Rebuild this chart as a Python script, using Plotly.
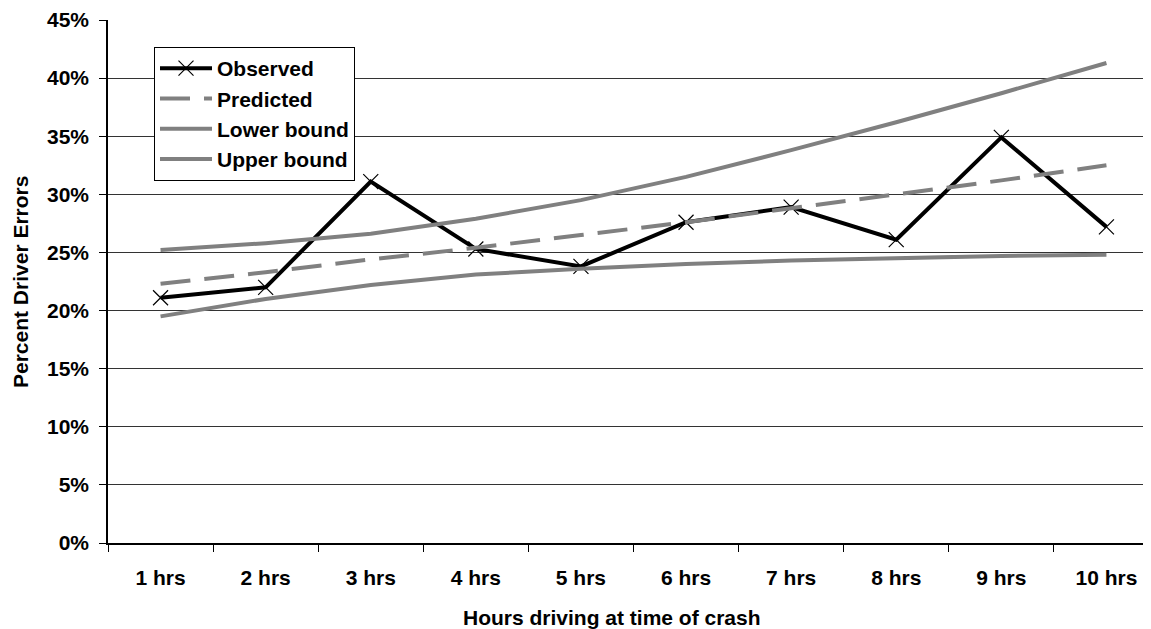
import plotly.graph_objects as go

categories = ["1 hrs", "2 hrs", "3 hrs", "4 hrs", "5 hrs", "6 hrs", "7 hrs", "8 hrs", "9 hrs", "10 hrs"]
observed = [0.211, 0.220, 0.311, 0.253, 0.238, 0.276, 0.289, 0.261, 0.349, 0.272]
predicted = [0.223, 0.233, 0.244, 0.254, 0.265, 0.276, 0.288, 0.300, 0.312, 0.325]
lower_bound = [0.195, 0.210, 0.222, 0.231, 0.236, 0.240, 0.243, 0.245, 0.247, 0.248]
upper_bound = [0.252, 0.258, 0.266, 0.279, 0.295, 0.315, 0.338, 0.362, 0.387, 0.413]
y_ticks = [0, 0.05, 0.10, 0.15, 0.20, 0.25, 0.30, 0.35, 0.40, 0.45]

FONT = "Liberation Sans, Arial, sans-serif"
GRAY = "#808080"
FS = 21

# page body has an 8px margin; figure coords = window coords - 8
W, H = 1143, 621
L, T, B = 100, 12, 86
PW, PH = W - L, H - T - B

fig = go.Figure()
fig.add_trace(go.Scatter(
    x=categories, y=observed, name="Observed", mode="lines+markers",
    line=dict(color="black", width=4),
    marker=dict(symbol="x-thin", size=15, line=dict(color="black", width=1.2), color="black"),
    legendgroup="a"))
fig.add_trace(go.Scatter(
    x=categories, y=predicted, name="Predicted", mode="lines",
    line=dict(color=GRAY, width=4, dash="30px,14px"), legendgroup="b"))
fig.add_trace(go.Scatter(
    x=categories, y=lower_bound, name="Lower bound", mode="lines",
    line=dict(color=GRAY, width=4), legendgroup="c"))
fig.add_trace(go.Scatter(
    x=categories, y=upper_bound, name="Upper bound", mode="lines",
    line=dict(color=GRAY, width=4), legendgroup="d"))

bold = dict(family=FONT, size=FS, color="black", weight="bold")

fig.update_layout(
    width=W, height=H,
    margin=dict(l=L, r=0, t=T, b=B),
    paper_bgcolor="white", plot_bgcolor="white",
    font=bold,
    showlegend=True,
    legend=dict(
        x=(146 - L) / PW, y=(535 - 39) / PH, xanchor="left", yanchor="top",
        bgcolor="white", bordercolor="black", borderwidth=1,
        font=bold,
        itemwidth=52, tracegroupgap=3, traceorder="normal",
    ),
    xaxis=dict(
        type="category", range=[-0.5, 9.424],
        showgrid=False, showline=True, linecolor="black", linewidth=1.5,
        ticks="outside", ticklen=7, tickcolor="black", tickwidth=1,
        tickson="boundaries", tickfont=bold,
        ticklabelstandoff=15, zeroline=False,
    ),
    yaxis=dict(
        range=[0, 0.45], tickvals=y_ticks, tickformat=".0%",
        showgrid=True, gridcolor="#333333", gridwidth=1,
        showline=True, linecolor="black", linewidth=1.5,
        ticks="outside", ticklen=7, tickcolor="black", tickwidth=1,
        tickfont=bold,
        ticklabelstandoff=6, zeroline=False,
    ),
    annotations=[
        dict(text="Hours driving at time of crash", xref="paper", yref="paper",
             x=(604 - L) / PW, y=-(609 - 535) / PH, xanchor="center", yanchor="middle",
             showarrow=False, font=bold),
        dict(text="Percent Driver Errors", xref="paper", yref="paper",
             x=-(L - 12) / PW, y=(535 - 274) / PH, xanchor="center", yanchor="middle",
             textangle=-90, showarrow=False, font=bold),
    ],
)

fig.write_html("out.html")
